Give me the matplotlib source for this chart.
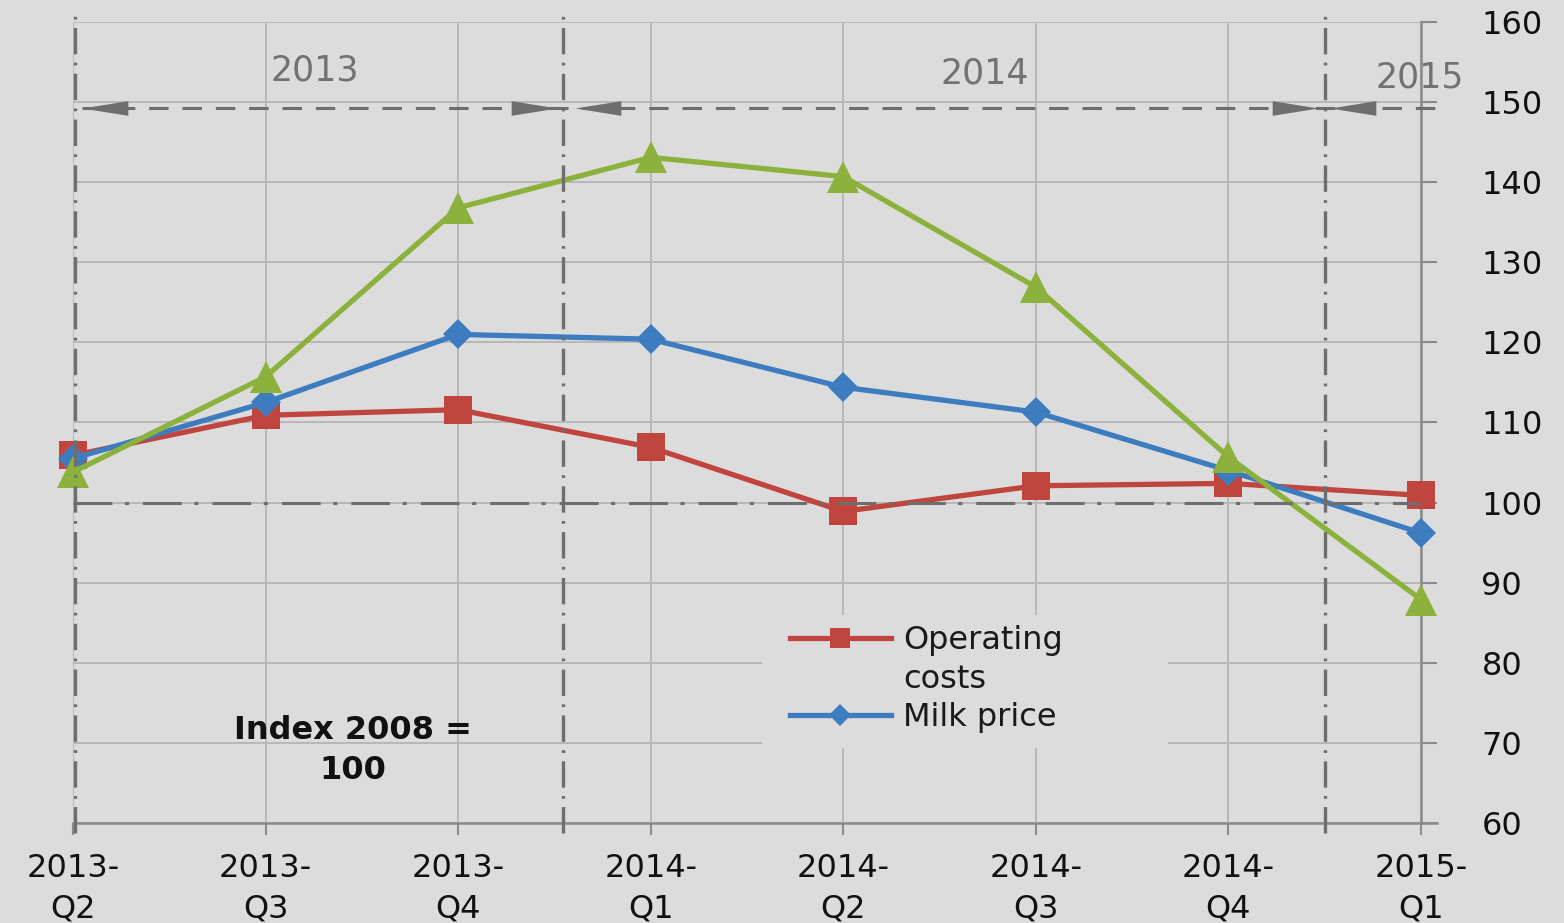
import matplotlib
matplotlib.use("Agg")
import matplotlib.pyplot as plt
from matplotlib.lines import Line2D
from matplotlib.patches import Rectangle

# ---------------- data ----------------
categories = ["2013-\nQ2", "2013-\nQ3", "2013-\nQ4", "2014-\nQ1",
              "2014-\nQ2", "2014-\nQ3", "2014-\nQ4", "2015-\nQ1"]
operating_costs = [105.9, 110.9, 111.6, 106.9, 98.9, 102.1, 102.4, 100.9]
milk_price = [105.5, 112.5, 121.0, 120.4, 114.4, 111.3, 104.0, 96.2]
third_series = [103.8, 115.7, 136.8, 143.1, 140.7, 126.9, 105.7, 87.9]
y_ticks = [60, 70, 80, 90, 100, 110, 120, 130, 140, 150, 160]
year_labels = ["2013", "2014", "2015"]
legend_labels = ["Operating", "costs", "Milk price"]
index_note = ["Index 2008 =", "100"]

# ---------------- style ----------------
BG = "#dcdcdc"
RED = "#c0453e"
BLUE = "#3d7cbf"
GREEN = "#8cb13c"
DECOR = "#6e6e6e"
GRID = "#b8b8b8"
AXIS = "#8a8a8a"
plt.rcParams["lines.scale_dashes"] = False
plt.rcParams["font.family"] = ["DejaVu Sans"]

fig = plt.figure(figsize=(15.64, 9.23), dpi=100, facecolor=BG)
ax = fig.add_axes([73 / 1564, 1 - 823 / 923, (1421 - 73) / 1564, (823 - 22) / 923])
ax.set_facecolor(BG)

x = list(range(len(categories)))
ax.set_xlim(0, len(categories) - 1)
ax.set_ylim(60, 160)

# grid
ax.set_axisbelow(True)
ax.grid(True, color=GRID, linewidth=1.4)

# series
ax.plot(x, operating_costs, color=RED, lw=3.8, marker="s", ms=20, mew=0, zorder=3,
        clip_on=False)
ax.plot(x, milk_price, color=BLUE, lw=3.8, marker="D", ms=15, mew=0, zorder=3.1,
        clip_on=False)
ax.plot(x, third_series, color=GREEN, lw=3.8, marker="^", ms=23, mew=0, zorder=3.2,
        clip_on=False)

# year separator lines (dash-dot)
for xv in [0.01, 2.545, 6.50]:
    ax.plot([xv, xv], [58.8, 160.7], color=DECOR, lw=2.4, dashes=(19, 6, 2, 6),
            clip_on=False, zorder=5, solid_capstyle="butt", dash_capstyle="butt")
# index = 100 line
ax.plot([0, 7], [100, 100], color=DECOR, lw=2.2, dashes=(28, 9, 3, 10), zorder=5)

# year span arrows
arrow_y = 149.3
ax.plot([0.047, 7.135], [arrow_y, arrow_y], color=DECOR, lw=2.2, dashes=(14, 10),
        clip_on=False, zorder=5)
right_head = [(0, 0), (-1, 0.16), (-1, -0.16), (0, 0)]
left_head = [(0, 0), (1, 0.16), (1, -0.16), (0, 0)]
for xt in [0.047, 2.607, 6.527]:
    ax.plot([xt], [arrow_y], marker=left_head, ms=66, mew=0, color=DECOR,
            clip_on=False, zorder=5, linestyle="none")
for xt in [2.513, 6.465]:
    ax.plot([xt], [arrow_y], marker=right_head, ms=66, mew=0, color=DECOR,
            clip_on=False, zorder=5, linestyle="none")

for lab, xp, yp in zip(year_labels, [1.257, 4.736, 6.995], [154.0, 153.6, 153.1]):
    ax.text(xp, yp, lab, fontsize=25, color="#727272", ha="center", va="center",
            zorder=6, clip_on=False)

# index note
ax.text(1.454, 71.5, index_note[0], fontsize=23, fontweight="bold", color="#111111",
        ha="center", va="center", zorder=6)
ax.text(1.454, 66.5, index_note[1], fontsize=23, fontweight="bold", color="#111111",
        ha="center", va="center", zorder=6)

# legend background (hides grid)
ax.add_patch(Rectangle((0.511, 0.0936), 0.301, 0.166, transform=ax.transAxes,
                       facecolor=BG, edgecolor="none", zorder=1))
handles = [Line2D([], [], color=RED, lw=3.8, marker="s", ms=20, mew=0),
           Line2D([], [], linestyle="none"),
           Line2D([], [], color=BLUE, lw=3.8, marker="D", ms=15, mew=0)]
leg = ax.legend(handles, legend_labels, loc="upper left", bbox_to_anchor=(0.532, 0.247),
                bbox_transform=ax.transAxes, frameon=False, borderpad=0, borderaxespad=0,
                handlelength=3.15, handletextpad=0.38, labelspacing=0.23,
                prop={"family": "DejaVu Sans", "size": 23}, markerscale=0.72)
for t in leg.get_texts():
    t.set_color("#1a1a1a")
leg.set_zorder(6)

# axes
for s in ["top", "left"]:
    ax.spines[s].set_visible(False)
for s in ["right", "bottom"]:
    ax.spines[s].set_color(AXIS)
    ax.spines[s].set_linewidth(1.8)
ax.plot([1.0, 1.0115], [0, 0], transform=ax.transAxes, color=AXIS, lw=1.8, clip_on=False)

ax.yaxis.tick_right()
ax.set_yticks(y_ticks)
ax.set_yticklabels([str(v) for v in y_ticks])
ax.tick_params(axis="y", right=True, left=False, length=11.5, width=1.5, color=AXIS,
               pad=32, labelsize=23, labelcolor="#111111")
ax.set_xticks(x)
ax.set_xticklabels(categories)
ax.tick_params(axis="x", length=8.6, width=1.5, color=AXIS, pad=13, labelsize=23,
               labelcolor="#111111")
for t in ax.get_xticklabels():
    t.set_linespacing(1.38)

fig.savefig("out.png", dpi=100, facecolor=BG)
